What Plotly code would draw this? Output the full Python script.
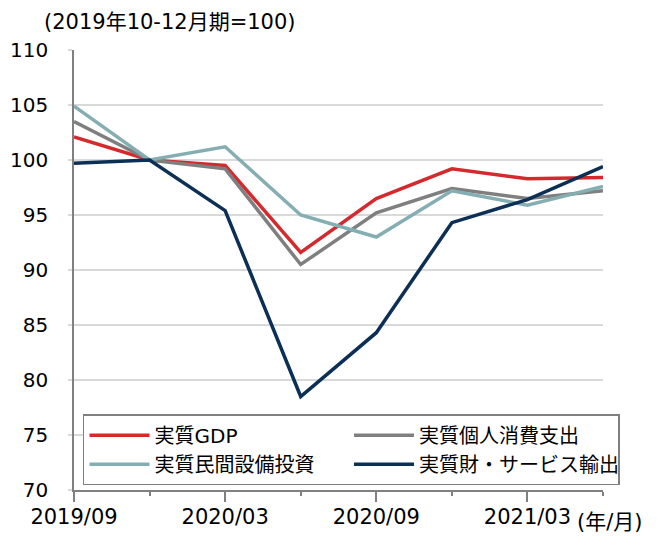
import plotly.graph_objects as go

quarters = ["2019/09", "2019/12", "2020/03", "2020/06", "2020/09", "2020/12", "2021/03", "2021/06"]
gdp = [102.1, 100.0, 99.5, 91.6, 96.5, 99.2, 98.3, 98.4]
consumption = [103.5, 100.0, 99.2, 90.5, 95.2, 97.4, 96.5, 97.2]
capex = [104.9, 100.0, 101.2, 95.0, 93.0, 97.2, 95.9, 97.6]
exports = [99.7, 100.0, 95.4, 78.5, 84.3, 94.3, 96.4, 99.4]

series_names = ["実質GDP", "実質個人消費支出", "実質民間設備投資", "実質財・サービス輸出"]
series_values = [gdp, consumption, capex, exports]
series_colors = ["#D42A2E", "#7F7F7F", "#84AEB2", "#0C2F56"]

y_ticks = [70, 75, 80, 85, 90, 95, 100, 105, 110]
x_idx = list(range(len(quarters)))

FONT = "DejaVu Sans, Noto Sans CJK JP, sans-serif"

fig = go.Figure()
for name, vals, col in zip(series_names, series_values, series_colors):
    fig.add_trace(go.Scatter(
        x=x_idx, y=vals, name=name, mode="lines",
        line=dict(color=col, width=3.5),
    ))

fig.update_layout(
    width=657, height=529,
    margin=dict(l=66, r=62, t=42, b=47, autoexpand=False),
    plot_bgcolor="white", paper_bgcolor="white",
    font=dict(family=FONT, size=20, color="#000000"),
    showlegend=True,
    legend=dict(
        orientation="h",
        x=0.017, xanchor="left",
        y=0.172, yanchor="top",
        bgcolor="white",
        bordercolor="#808080", borderwidth=1.5,
        font=dict(family=FONT, size=20, color="#000000"),
        itemwidth=60,
        entrywidth=0.5, entrywidthmode="fraction",
    ),
    annotations=[
        dict(text="(2019年10-12月期=100)", xref="paper", yref="paper",
             x=-0.06, y=1.0, yshift=28, xanchor="left", yanchor="middle",
             showarrow=False, font=dict(family=FONT, size=21, color="#000000")),
        dict(text="(年/月)", xref="paper", yref="paper",
             x=1.0, y=0, xshift=-28, yshift=-32, xanchor="left", yanchor="middle",
             showarrow=False, font=dict(family=FONT, size=21, color="#000000")),
    ],
)

fig.update_xaxes(
    range=[0, len(quarters) - 1],
    tickmode="array", tickvals=x_idx[::2], ticktext=quarters[::2],
    ticks="outside", ticklen=10, tickwidth=1.5, tickcolor="#808080",
    minor=dict(tickmode="array", tickvals=x_idx, ticks="outside", ticklen=4,
               tickwidth=1.5, tickcolor="#808080", showgrid=False),
    showline=True, linecolor="#808080", linewidth=1.5,
    showgrid=False, zeroline=False,
    tickfont=dict(family=FONT, size=21, color="#000000"),
    ticklabelstandoff=-3,
)
fig.update_yaxes(
    range=[70, 110],
    tickmode="array", tickvals=y_ticks,
    ticks="outside", ticklen=4, tickcolor="#D9D9D9", tickwidth=1.5,
    showline=True, linecolor="#808080", linewidth=1.5,
    showgrid=True, gridcolor="#D9D9D9", gridwidth=1.5,
    zeroline=False,
    tickfont=dict(family=FONT, size=20, color="#000000"),
    ticklabelstandoff=16,
)

fig.write_html("out.html")
